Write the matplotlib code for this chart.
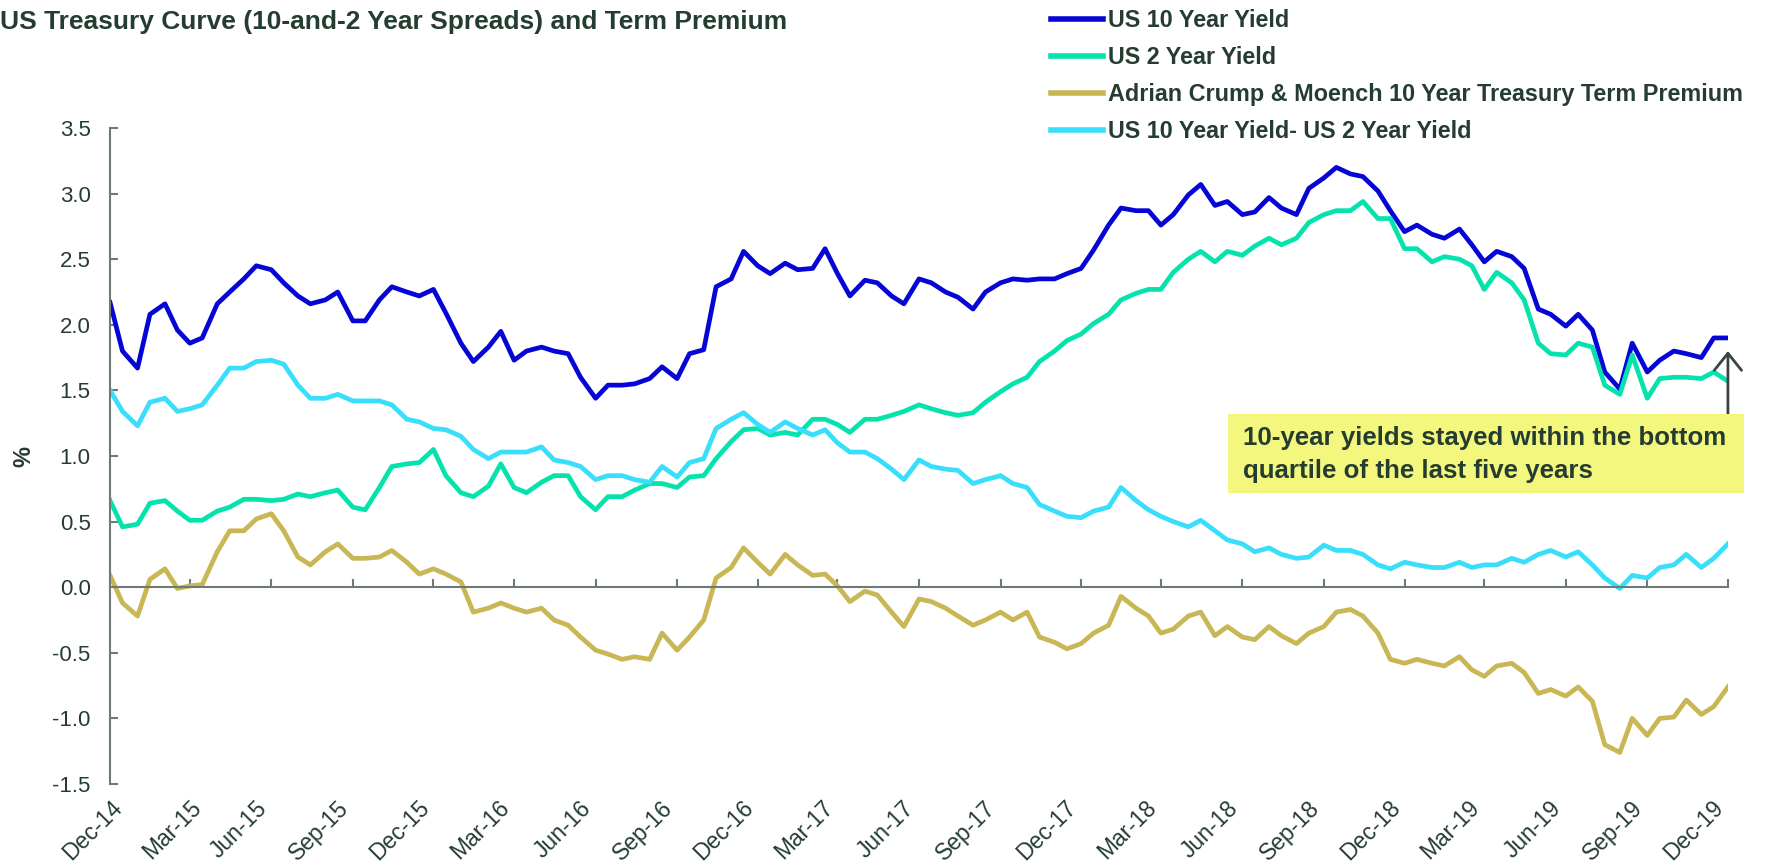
import numpy as np
import pandas as pd
import matplotlib
matplotlib.use("Agg")
import matplotlib.pyplot as plt
import matplotlib.dates as mdates
from matplotlib.patches import Rectangle

plt.rcParams['font.family'] = ['Liberation Sans', 'DejaVu Sans']
plt.rcParams['axes.unicode_minus'] = False

# semi-monthly readings, Dec-14 .. Dec-19
dates = pd.date_range('2014-12-01', periods=121, freq='SMS')

us10y = [2.17, 1.80, 1.67, 2.08, 2.16, 1.96, 1.86, 1.90, 2.16, 2.25, 2.35, 2.45, 2.42, 2.32, 2.22, 2.16,
         2.19, 2.25, 2.03, 2.03, 2.19, 2.29, 2.25, 2.22, 2.27, 2.09, 1.86, 1.72, 1.83, 1.95, 1.73, 1.80,
         1.83, 1.80, 1.78, 1.60, 1.44, 1.54, 1.54, 1.55, 1.59, 1.68, 1.59, 1.78, 1.81, 2.29, 2.35, 2.56,
         2.45, 2.39, 2.47, 2.42, 2.43, 2.58, 2.39, 2.22, 2.34, 2.32, 2.22, 2.16, 2.35, 2.32, 2.25, 2.21,
         2.12, 2.25, 2.32, 2.35, 2.34, 2.35, 2.35, 2.39, 2.43, 2.57, 2.76, 2.89, 2.87, 2.87, 2.76, 2.84,
         2.99, 3.07, 2.91, 2.94, 2.84, 2.86, 2.97, 2.89, 2.84, 3.04, 3.12, 3.20, 3.15, 3.13, 3.02, 2.87,
         2.71, 2.76, 2.69, 2.66, 2.73, 2.61, 2.48, 2.56, 2.52, 2.43, 2.12, 2.08, 1.99, 2.08, 1.96, 1.64,
         1.51, 1.86, 1.64, 1.73, 1.80, 1.78, 1.75, 1.90, 1.90]

us2y = [0.66, 0.46, 0.48, 0.64, 0.66, 0.58, 0.51, 0.51, 0.58, 0.61, 0.67, 0.67, 0.66, 0.67, 0.71, 0.69,
        0.72, 0.74, 0.61, 0.59, 0.76, 0.92, 0.94, 0.95, 1.05, 0.85, 0.72, 0.69, 0.77, 0.94, 0.76, 0.72,
        0.80, 0.85, 0.85, 0.69, 0.59, 0.69, 0.69, 0.74, 0.79, 0.79, 0.76, 0.84, 0.85, 0.98, 1.11, 1.20,
        1.21, 1.16, 1.18, 1.16, 1.28, 1.28, 1.24, 1.18, 1.28, 1.28, 1.31, 1.34, 1.39, 1.36, 1.33, 1.31,
        1.33, 1.41, 1.49, 1.55, 1.60, 1.72, 1.80, 1.88, 1.93, 2.01, 2.08, 2.19, 2.24, 2.27, 2.27, 2.40,
        2.50, 2.56, 2.48, 2.56, 2.53, 2.60, 2.66, 2.61, 2.66, 2.78, 2.84, 2.87, 2.87, 2.94, 2.81, 2.81,
        2.58, 2.58, 2.48, 2.52, 2.50, 2.45, 2.27, 2.40, 2.32, 2.19, 1.86, 1.78, 1.77, 1.86, 1.83, 1.54,
        1.47, 1.77, 1.44, 1.59, 1.60, 1.60, 1.59, 1.64, 1.57]

term_prem = [0.09, -0.12, -0.22, 0.06, 0.14, -0.01, 0.01, 0.02, 0.27, 0.43, 0.43, 0.52, 0.56, 0.43, 0.23, 0.17,
             0.27, 0.33, 0.22, 0.22, 0.23, 0.28, 0.19, 0.10, 0.14, 0.10, 0.04, -0.19, -0.16, -0.12, -0.16, -0.19,
             -0.16, -0.25, -0.29, -0.38, -0.48, -0.51, -0.55, -0.53, -0.55, -0.35, -0.48, -0.38, -0.25, 0.07, 0.15, 0.30,
             0.19, 0.10, 0.25, 0.17, 0.09, 0.10, 0.01, -0.11, -0.03, -0.06, -0.19, -0.30, -0.09, -0.11, -0.16, -0.22,
             -0.29, -0.25, -0.19, -0.25, -0.19, -0.38, -0.42, -0.47, -0.43, -0.35, -0.29, -0.07, -0.16, -0.22, -0.35, -0.32,
             -0.22, -0.19, -0.37, -0.30, -0.38, -0.40, -0.30, -0.37, -0.43, -0.35, -0.30, -0.19, -0.17, -0.22, -0.35, -0.55,
             -0.58, -0.55, -0.58, -0.60, -0.53, -0.63, -0.68, -0.60, -0.58, -0.65, -0.81, -0.78, -0.83, -0.76, -0.87, -1.20,
             -1.26, -1.00, -1.13, -1.00, -0.99, -0.86, -0.97, -0.91, -0.76]

spread = [1.50, 1.34, 1.23, 1.41, 1.44, 1.34, 1.36, 1.39, 1.54, 1.67, 1.67, 1.72, 1.73, 1.70, 1.54, 1.44,
          1.44, 1.47, 1.42, 1.42, 1.42, 1.39, 1.28, 1.26, 1.21, 1.20, 1.15, 1.05, 0.98, 1.03, 1.03, 1.03,
          1.07, 0.97, 0.95, 0.92, 0.82, 0.85, 0.85, 0.82, 0.80, 0.92, 0.84, 0.95, 0.98, 1.21, 1.28, 1.33,
          1.24, 1.18, 1.26, 1.21, 1.16, 1.20, 1.10, 1.03, 1.03, 0.98, 0.90, 0.82, 0.97, 0.92, 0.90, 0.89,
          0.79, 0.82, 0.85, 0.79, 0.76, 0.63, 0.58, 0.54, 0.53, 0.58, 0.61, 0.76, 0.66, 0.59, 0.54, 0.50,
          0.46, 0.51, 0.43, 0.36, 0.33, 0.27, 0.30, 0.25, 0.22, 0.23, 0.32, 0.28, 0.28, 0.25, 0.17, 0.14,
          0.19, 0.17, 0.15, 0.15, 0.19, 0.15, 0.17, 0.17, 0.22, 0.19, 0.25, 0.28, 0.23, 0.27, 0.17, 0.07,
          -0.01, 0.09, 0.07, 0.15, 0.17, 0.25, 0.15, 0.22, 0.33]

labels = ['US 10 Year Yield', 'US 2 Year Yield',
          'Adrian Crump & Moench 10 Year Treasury Term Premium',
          'US 10 Year Yield- US 2 Year Yield']
colors = ['#0505D6', '#05E3AC', '#C9B654', '#38DEFA']

text_col = '#253D31'
axis_col = '#6E7A76'

fig = plt.figure(figsize=(17.81, 8.68), dpi=100)
ax = fig.add_axes([0.0618, 0.0968, 0.9084, 0.7557])

for series, lab, col in zip([us10y, us2y, term_prem, spread], labels, colors):
    ax.plot(dates, series, color=col, lw=3.4, label=lab, solid_joinstyle='round')

ax.set_xlim(pd.Timestamp('2014-12-01'), pd.Timestamp('2019-12-01'))
ax.set_ylim(-1.5, 3.5)
ax.set_yticks(np.arange(-1.5, 3.51, 0.5))
ax.yaxis.set_major_formatter(plt.FormatStrFormatter('%.1f'))

for s in ['top', 'right']:
    ax.spines[s].set_visible(False)
ax.spines['left'].set_color(axis_col)
ax.spines['left'].set_linewidth(1.5)
ax.spines['bottom'].set_position(('data', 0))
ax.spines['bottom'].set_color(axis_col)
ax.spines['bottom'].set_linewidth(1.5)

quarters = mdates.MonthLocator(bymonth=(3, 6, 9, 12))
ax.xaxis.set_major_locator(quarters)
ax.tick_params(axis='x', direction='in', length=6, width=1.5, color=axis_col, labelbottom=False)
ax.tick_params(axis='y', direction='in', length=6, width=1.5, color=axis_col,
               labelsize=16, labelcolor=text_col, pad=14)

# date labels sit under the plot, not on the zero line
sec = ax.secondary_xaxis('bottom')
sec.xaxis.set_major_locator(mdates.MonthLocator(bymonth=(3, 6, 9, 12)))
sec.xaxis.set_major_formatter(mdates.DateFormatter('%b-%y'))
sec.spines['bottom'].set_visible(False)
sec.tick_params(axis='x', length=0, pad=9, labelsize=16.5, labelcolor=text_col)
for t in sec.get_xticklabels():
    t.set_rotation(45)
    t.set_ha('right')
    t.set_rotation_mode('anchor')

ax.set_ylabel('%', fontsize=17, fontweight='bold', color=text_col)
ax.yaxis.set_label_coords(-0.046, 0.5)

fig.text(0.0, 0.975, 'US Treasury Curve (10-and-2 Year Spreads) and Term Premium',
         fontsize=19, fontweight='bold', color=text_col, va='center', ha='left')

leg = fig.legend(loc='upper left', bbox_to_anchor=(0.585, 1.0), frameon=False,
                 prop={'size': 16.8, 'weight': 'bold'}, handlelength=2.2, handletextpad=0.25,
                 labelspacing=0.6, borderaxespad=0.0)
for t in leg.get_texts():
    t.set_color(text_col)
for h in leg.get_lines():
    h.set_linewidth(4)

# callout box + arrow
fig.patches.append(Rectangle((0.6895, 0.432), 0.2897, 0.091, transform=fig.transFigure,
                             facecolor='#F3F77D', edgecolor='none', zorder=5))
fig.text(0.698, 0.4765, '10-year yields stayed within the bottom\nquartile of the last five years',
         fontsize=18.6, fontweight='bold',
         color=text_col, va='center', ha='left', linespacing=1.45, zorder=6)
ax.annotate('', xy=(dates[-1], 1.80), xytext=(dates[-1], 1.32),
            arrowprops=dict(arrowstyle='->,head_length=0.35,head_width=0.28', color='#3A4540',
                            lw=2, mutation_scale=35, shrinkA=0, shrinkB=0))

fig.savefig('out.png', dpi=100)
